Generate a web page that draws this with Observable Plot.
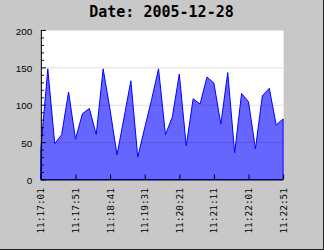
<!DOCTYPE html>
<html><head><meta charset="utf-8">
<script src="https://cdn.jsdelivr.net/npm/d3@7"></script>
<script src="https://cdn.jsdelivr.net/npm/@observablehq/plot@0.6"></script>
<style>
html,body{margin:0;padding:0;background:#c8c8c8;}
#wrap{position:relative;width:324px;height:250px;box-sizing:border-box;background:#c8c8c8;border-right:1px solid #222;border-bottom:1px solid #222;overflow:hidden;}
#title{height:22px;padding-top:1px;box-sizing:border-box;text-align:center;font:bold 15px "DejaVu Sans Mono",monospace;line-height:22px;color:#000;}
#chart svg{display:block;}
</style></head><body>
<div id="wrap"><div id="title">Date: 2005-12-28</div><div id="chart"></div></div>
<script>
const times = [
  "11:17:01","11:17:11","11:17:21","11:17:31","11:17:41","11:17:51",
  "11:18:01","11:18:11","11:18:21","11:18:31","11:18:41","11:18:51",
  "11:19:01","11:19:11","11:19:21","11:19:31","11:19:41","11:19:51",
  "11:20:01","11:20:11","11:20:21","11:20:31","11:20:41","11:20:51",
  "11:21:01","11:21:11","11:21:21","11:21:31","11:21:41","11:21:51",
  "11:22:01","11:22:11","11:22:21","11:22:31","11:22:41","11:22:51"
];
const values = [
  42, 148, 48, 60, 117, 54,
  88, 95, 60, 148, 93, 33,
  82, 132, 30, 69, 107, 148,
  60, 84, 141, 45, 108, 101,
  137, 129, 74, 143, 36, 115,
  104, 41, 112, 122, 73, 81
];
const tickLabels = ["11:17:01","11:17:51","11:18:41","11:19:31","11:20:21","11:21:11","11:22:01","11:22:51"];
const yTicks = [0, 50, 100, 150, 200];
const yMinorTicks = [10,20,30,40,60,70,80,90,110,120,130,140,160,170,180,190];
const gridValues = [50, 100, 150];

const parse = d3.utcParse("%H:%M:%S");
const data = times.map((t, i) => ({time: parse(t), value: values[i]}));
const tickDates = tickLabels.map(parse);

const plot = Plot.plot({
  width: 324, height: 228,
  marginTop: 8, marginBottom: 70, marginLeft: 41, marginRight: 40,
  style: {background: "transparent", overflow: "visible"},
  x: {type: "utc", domain: [parse(times[0]), parse(times[times.length - 1])]},
  y: {domain: [0, 200]},
  marks: [
    Plot.frame({fill: "white", stroke: "none"}),
    Plot.areaY(data, {x: "time", y: "value", fill: "#6666ff", stroke: "#0000ff", strokeWidth: 1}),
    Plot.gridY(gridValues, {stroke: "#000", strokeOpacity: 0.13}),
    Plot.axisY({ticks: yTicks, tickSize: 5, dx: 5, tickFormat: () => "", label: null}),
    Plot.axisY({ticks: yMinorTicks, tickSize: 3, dx: 3, tickFormat: () => "", label: null}),
    Plot.axisY({ticks: yTicks, tickSize: 0, tickPadding: 9, dy: 1, fontSize: 10, fontFamily: "Liberation Sans", label: null}),
    Plot.axisX({ticks: tickDates, tickSize: 5, dy: -5, tickFormat: () => "", label: null}),
    Plot.text(tickDates, {x: d => d, frameAnchor: "bottom", rotate: -90, textAnchor: "end", lineAnchor: "middle",
      dy: 8, text: (d, i) => tickLabels[i], fontFamily: "DejaVu Sans Mono", fontSize: 9.5, fill: "#000"}),
    Plot.ruleX([parse(times[0])], {stroke: "#000"}),
    Plot.ruleY([0], {stroke: "#000"})
  ]
});
document.getElementById("chart").appendChild(plot);
</script>
</body></html>
